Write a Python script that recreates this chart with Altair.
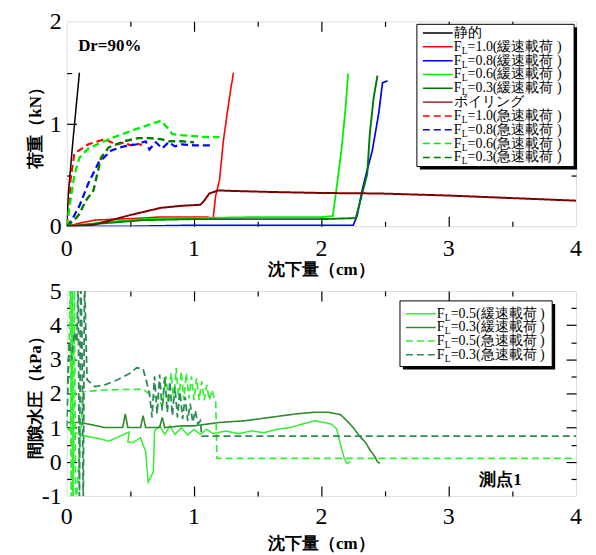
import altair as alt
import pandas as pd

# ---------------- top panel: load (kN) vs settlement (cm) ----------------
top_labels = ["静的", "FL=1.0(緩速載荷 )", "FL=0.8(緩速載荷 )", "FL=0.6(緩速載荷 )",
              "FL=0.3(緩速載荷 )", "ボイリング", "FL=1.0(急速載荷 )", "FL=0.8(急速載荷 )",
              "FL=0.6(急速載荷 )", "FL=0.3(急速載荷 )"]

static_x = [0, 0.015, 0.05, 0.1]
static_y = [0, 0.35, 0.85, 1.5]

slow10_x = [0, 0.1, 0.22, 0.4, 0.6, 0.72, 0.9, 1.0, 1.1, 1.15, 1.17, 1.2, 1.23, 1.26, 1.29, 1.31]
slow10_y = [0, 0.03, 0.06, 0.07, 0.08, 0.09, 0.09, 0.09, 0.09, 0.08, 0.3, 0.45, 0.83, 1.1, 1.35, 1.5]

slow08_x = [0, 0.5, 1.0, 1.5, 2.0, 2.25, 2.28, 2.32, 2.36, 2.4, 2.45, 2.48, 2.52]
slow08_y = [0, 0.0, 0.01, 0.01, 0.01, 0.01, 0.1, 0.35, 0.55, 0.74, 1.1, 1.4, 1.42]

slow06_x = [0, 0.3, 0.6, 1.0, 1.5, 2.0, 2.09, 2.12, 2.16, 2.19, 2.21]
slow06_y = [0, 0.04, 0.07, 0.08, 0.09, 0.09, 0.1, 0.38, 0.77, 1.16, 1.49]

slow03_x = [0, 0.3, 0.6, 1.0, 1.5, 2.0, 2.27, 2.3, 2.36, 2.38, 2.41, 2.44]
slow03_y = [0, 0.03, 0.06, 0.07, 0.07, 0.07, 0.08, 0.22, 0.51, 0.9, 1.25, 1.47]

boil_x = [0, 0.2, 0.35, 0.5, 0.74, 0.9, 1.05, 1.08, 1.12, 1.19, 1.3, 1.6, 2.0, 2.46, 3.0, 3.5, 4.0]
boil_y = [0, 0.01, 0.06, 0.11, 0.18, 0.2, 0.21, 0.25, 0.32, 0.35, 0.345, 0.335, 0.325, 0.32, 0.3, 0.275, 0.25]

fast10_x = [0, 0.02, 0.03, 0.06, 0.17, 0.3, 0.35, 0.4, 0.45, 0.5, 0.55, 0.59]
fast10_y = [0, 0.2, 0.45, 0.71, 0.8, 0.85, 0.82, 0.8, 0.82, 0.79, 0.81, 0.79]

fast08_x = [0, 0.04, 0.1, 0.17, 0.25, 0.35, 0.45, 0.55, 0.62, 0.65, 0.7, 0.75, 0.8, 0.85, 0.9, 1.0, 1.13]
fast08_y = [0, 0.06, 0.2, 0.42, 0.62, 0.74, 0.78, 0.8, 0.83, 0.75, 0.82, 0.76, 0.82, 0.78, 0.8, 0.79, 0.79]

fast06_x = [0, 0.03, 0.06, 0.1, 0.17, 0.35, 0.55, 0.74, 0.8, 0.83, 0.9, 1.0, 1.1, 1.2]
fast06_y = [0, 0.25, 0.5, 0.67, 0.76, 0.86, 0.95, 1.03, 0.95, 0.9, 0.89, 0.88, 0.87, 0.87]

fast03_x = [0, 0.06, 0.1, 0.15, 0.21, 0.27, 0.33, 0.45, 0.56, 0.65, 0.74, 0.8, 0.9, 1.0]
fast03_y = [0, 0.06, 0.12, 0.25, 0.35, 0.67, 0.77, 0.83, 0.86, 0.86, 0.85, 0.83, 0.83, 0.82]

top_xs = [static_x, slow10_x, slow08_x, slow06_x, slow03_x, boil_x, fast10_x, fast08_x, fast06_x, fast03_x]
top_ys = [static_y, slow10_y, slow08_y, slow06_y, slow03_y, boil_y, fast10_y, fast08_y, fast06_y, fast03_y]

# ---------------- bottom panel: pore water pressure (kPa) ----------------
bot_labels = ["FL=0.5(緩速載荷 )", "FL=0.3(緩速載荷 )", "FL=0.5(急速載荷 )", "FL=0.3(急速載荷 )"]

pslow05_x = [0, 0.03, 0.045, 0.05, 0.055, 0.07, 0.12, 0.25, 0.33, 0.46, 0.49, 0.48, 0.52, 0.58,
             0.62, 0.64, 0.68, 0.69, 0.73, 0.77, 0.81, 0.85, 0.9, 0.95, 1.0, 1.05, 1.1, 1.15, 1.25,
             1.35, 1.45, 1.55, 1.65, 1.75, 1.85, 1.95, 2.02, 2.08, 2.12, 2.15, 2.18, 2.2, 2.23]
pslow05_y = [1.0, 0.9, 5.5, -1.5, 0.8, 0.85, 0.77, 0.68, 0.6, 0.82, 0.87, 0.58, 0.56, 0.7,
             0.3, -0.6, -0.3, 0.9, 1.05, 0.8, 1.05, 0.8, 1.0, 0.78, 0.95, 0.8, 0.95, 0.82, 0.9,
             0.82, 0.9, 0.85, 0.95, 1.0, 1.1, 1.2, 1.15, 1.1, 0.96, 0.5, 0.1, -0.05, 0.0]

pslow03_x = [0, 0.1, 0.2, 0.3, 0.44, 0.46, 0.48, 0.58, 0.6, 0.62, 0.73, 0.75, 0.77, 0.9, 1.0,
             1.2, 1.4, 1.6, 1.8, 1.95, 2.05, 2.15, 2.2, 2.25, 2.3, 2.35, 2.38, 2.42, 2.44, 2.46]
pslow03_y = [1.15, 1.15, 1.08, 1.0, 1.0, 1.4, 1.0, 1.0, 1.35, 1.0, 1.0, 1.3, 1.0, 1.05, 1.05,
             1.15, 1.2, 1.3, 1.4, 1.45, 1.45, 1.38, 1.2, 1.0, 0.75, 0.55, 0.35, 0.15, 0.0, -0.05]

pfast05_x = [0, 0.02, 0.03, 0.035, 0.04, 0.045, 0.05, 0.06, 0.07, 0.13, 0.3, 0.5, 0.6, 0.68,
             0.72, 0.75, 0.78, 0.8, 0.82, 0.84, 0.86, 0.88, 0.9, 0.92, 0.94, 0.96, 0.98, 1.0,
             1.02, 1.04, 1.06, 1.08, 1.1, 1.12, 1.14, 1.16, 1.17, 1.18, 1.5, 2.0, 2.5, 3.0, 3.5, 4.0]
pfast05_y = [1.0, 3.5, 5.5, -1.5, 5.5, 2.0, -1.5, 5.5, -1.5, 2.05, 2.1, 2.12, 2.12, 1.9,
             1.9, 1.6, 2.5, 1.7, 2.6, 1.8, 2.75, 1.8, 2.65, 1.8, 2.6, 1.85, 2.5, 1.8,
             2.45, 1.8, 2.35, 1.8, 2.25, 1.8, 2.1, 1.85, 1.8, 0.1, 0.1, 0.1, 0.1, 0.1, 0.1, 0.1]

pfast03_x = [0, 0.01, 0.02, 0.04, 0.06, 0.08, 0.09, 0.1, 0.11, 0.12, 0.13, 0.14, 0.15, 0.16,
             0.22, 0.3, 0.4, 0.5, 0.55, 0.6, 0.63, 0.65, 0.67, 0.69, 0.71, 0.73, 0.75, 0.77,
             0.79, 0.81, 0.83, 0.85, 0.87, 0.89, 0.91, 0.93, 0.95, 0.97, 0.99, 1.01, 1.03,
             1.05, 1.06, 1.5, 2.0, 3.0, 4.0]
pfast03_y = [1.0, 2.5, 3.5, 3.0, 3.8, 3.5, 5.5, -1.5, 5.5, 3.6, -1.5, 5.5, 3.8, 2.4,
             2.2, 2.25, 2.4, 2.6, 2.75, 2.72, 2.3, 2.0, 1.3, 2.5, 1.4, 2.55, 1.5, 2.5,
             1.45, 2.35, 1.35, 2.2, 1.3, 2.05, 1.25, 1.9, 1.2, 1.7, 1.15, 1.5, 1.1,
             1.2, 0.75, 0.75, 0.75, 0.75, 0.75]

bot_xs = [pslow05_x, pslow03_x, pfast05_x, pfast03_x]
bot_ys = [pslow05_y, pslow03_y, pfast05_y, pfast03_y]

x_major = [1, 2, 3]
x_minor = [0.5, 1.5, 2.5, 3.5]
x_labels = [0, 1, 2, 3, 4]
top_y_labels = [0, 1, 2]
top_y_major = [1]
top_y_minor = [0.5, 1.5]
bot_y_labels = [-1, 0, 1, 2, 3, 4, 5]
bot_y_major = [0, 1, 2, 3, 4]
bot_y_minor = [-0.5, 0.5, 1.5, 2.5, 3.5, 4.5]

# ---------------- styles ----------------
top_colors = ["#000000", "#ff0000", "#0000ff", "#00ee00", "#007a00", "#800000",
              "#ff0000", "#0000ff", "#00ee00", "#007a00"]
top_widths = [1.5, 2.4, 2.4, 2.4, 2.4, 1.6, 1.5, 1.5, 1.5, 1.5]
top_dashes = [[1, 0]] * 6 + [[7, 4]] * 4
bot_colors = ["#33ee33", "#2e8b2e", "#33ee33", "#2e8b57"]
bot_widths = [1.5, 1.8, 1.5, 1.5]
bot_dashes = [[1, 0], [1, 0], [7, 4], [7, 4]]

SERIF = "Liberation Serif"
W, H = 512, 206


def long_df(labels, xs, ys):
    rows = []
    for lab, xx, yy in zip(labels, xs, ys):
        for i, (a, b) in enumerate(zip(xx, yy)):
            rows.append({"x": a, "y": b, "s": lab, "o": i})
    return pd.DataFrame(rows)


def panel(df, labels, colors, widths, dashes, ydom, ylab, ymaj, ymin, ytitle,
          box, row0, rowstep, xlab_dy, xtitle_dy, notes):
    xs = alt.Scale(domain=[0, 4], nice=False, zero=False)
    ys = alt.Scale(domain=ydom, nice=False, zero=False)
    cscale = alt.Scale(domain=labels, range=colors)
    dscale = alt.Scale(domain=labels, range=dashes)
    wscale = alt.Scale(domain=labels, range=widths)
    lines = alt.Chart(df).mark_line(clip=True).encode(
        x=alt.X("x:Q", scale=xs, axis=None),
        y=alt.Y("y:Q", scale=ys, axis=None),
        color=alt.Color("s:N", scale=cscale, legend=None),
        strokeDash=alt.StrokeDash("s:N", scale=dscale, legend=None),
        strokeWidth=alt.StrokeWidth("s:N", scale=wscale, legend=None),
        detail="s:N",
        order="o:Q",
    )
    lim = pd.DataFrame({"x": [0, 4], "y": ydom})
    base = alt.Chart(lim).mark_point(opacity=0)

    def ax(orient, values, size):
        return alt.Axis(orient=orient, values=values, domain=False, grid=False,
                        labels=False, title=None, ticks=True, tickSize=size,
                        offset=-size, tickColor="black", tickWidth=1.2)

    t1 = base.encode(x=alt.X("x:Q", scale=xs, axis=ax("bottom", x_major, 10)),
                     y=alt.Y("y:Q", scale=ys, axis=ax("left", ymaj, 10)))
    t2 = base.encode(x=alt.X("x:Q", scale=xs, axis=ax("bottom", x_minor, 5)),
                     y=alt.Y("y:Q", scale=ys, axis=ax("left", ymin, 5)))
    t3 = base.encode(x=alt.X("x:Q", scale=xs, axis=ax("top", x_major, 10)),
                     y=alt.Y("y:Q", scale=ys, axis=ax("right", ymaj, 10)))
    t4 = base.encode(x=alt.X("x:Q", scale=xs, axis=ax("top", x_minor, 5)),
                     y=alt.Y("y:Q", scale=ys, axis=ax("right", ymin, 5)))

    # tick labels (serif), placed through the scales
    xl = alt.Chart(pd.DataFrame({"v": x_labels, "t": [str(v) for v in x_labels]})).mark_text(
        font=SERIF, fontSize=24, align="center", baseline="alphabetic", color="black").encode(
        x=alt.X("v:Q", scale=xs, axis=None), y=alt.value(H + xlab_dy), text="t:N")
    yl = alt.Chart(pd.DataFrame({"v": ylab, "t": [str(v) for v in ylab]})).mark_text(
        font=SERIF, fontSize=24, align="right", baseline="alphabetic", dy=8,
        color="black").encode(
        x=alt.value(-5), y=alt.Y("v:Q", scale=ys, axis=None), text="t:N")
    one = pd.DataFrame({"k": [0]})
    xt = alt.Chart(pd.DataFrame({"t": ["沈下量（cm）"]})).mark_text(
        font=SERIF, fontSize=17, fontWeight="bold", align="center", baseline="middle",
        color="black").encode(x=alt.value(W / 2), y=alt.value(H + xtitle_dy), text="t:N")
    yt = alt.Chart(pd.DataFrame({"t": [ytitle]})).mark_text(
        font=SERIF, fontSize=17, fontWeight="bold", align="center", baseline="middle",
        angle=270, color="black").encode(x=alt.value(-31), y=alt.value(H / 2), text="t:N")

    layers = [t1, t2, t3, t4, lines, xl, yl, xt, yt]
    for (nx, ny, txt) in notes:
        ndf = pd.DataFrame({"x": [nx], "y": [ny], "t": [txt]})
        layers.append(alt.Chart(ndf).mark_text(font=SERIF, fontSize=17, fontWeight="bold",
                                               align="left", baseline="alphabetic",
                                               color="black").encode(
            x=alt.X("x:Q", scale=xs, axis=None),
            y=alt.Y("y:Q", scale=ys, axis=None),
            text="t:N"))

    # ---- hand-built legend (box with shadow, line samples, subscripted labels) ----
    bx0, by0, bx1, by1 = box
    n = len(labels)
    leg = pd.DataFrame({
        "s": labels,
        "r": list(range(n)),
        "head": ["F" if l.startswith("FL") else "" for l in labels],
        "sub": ["L" if l.startswith("FL") else "" for l in labels],
        "rest": [l[2:] if l.startswith("FL") else l for l in labels],
        "isf": [l.startswith("FL") for l in labels],
    })
    rscale = alt.Scale(domain=[0, n - 1], range=[row0, row0 + rowstep * (n - 1)])
    ry = alt.Y("r:Q", scale=rscale, axis=None)
    shadow = alt.Chart(one).mark_rect(fill="black", stroke=None).encode(
        x=alt.value(bx0 + 3), x2=alt.value(bx1 + 3), y=alt.value(by0 + 3), y2=alt.value(by1 + 3))
    frame = alt.Chart(one).mark_rect(fill="white", stroke="black", strokeWidth=1).encode(
        x=alt.value(bx0), x2=alt.value(bx1), y=alt.value(by0), y2=alt.value(by1))
    sx0 = bx0 + 6
    sx1 = sx0 + 30
    samp = alt.Chart(leg).mark_rule(strokeWidth=1.5).encode(
        x=alt.value(sx0), x2=alt.value(sx1), y=ry,
        color=alt.Color("s:N", scale=cscale, legend=None),
        strokeDash=alt.StrokeDash("s:N", scale=dscale, legend=None))
    tf = leg[leg["isf"]]
    tn = leg[~leg["isf"]]
    tx = sx1 + 1
    txt_head = alt.Chart(tf).mark_text(font=SERIF, fontSize=14, align="left",
                                       baseline="middle", color="black").encode(
        x=alt.value(tx), y=ry, text="head:N")
    txt_sub = alt.Chart(tf).mark_text(font=SERIF, fontSize=9.5, align="left",
                                      baseline="middle", dy=4, color="black").encode(
        x=alt.value(tx + 8), y=ry, text="sub:N")
    txt_rest = alt.Chart(tf).mark_text(font=SERIF, fontSize=14, align="left",
                                       baseline="middle", color="black").encode(
        x=alt.value(tx + 14), y=ry, text="rest:N")
    legend_layers = [shadow, frame, samp, txt_head, txt_sub, txt_rest]
    if len(tn):
        legend_layers.append(alt.Chart(tn).mark_text(font=SERIF, fontSize=14, align="left",
                                                     baseline="middle", color="black").encode(
            x=alt.value(tx), y=ry, text="rest:N"))
    layers += legend_layers
    return alt.layer(*layers).resolve_axis(x="independent", y="independent").resolve_scale(
        y="independent").properties(width=W, height=H)


top_df = long_df(top_labels, top_xs, top_ys)
bot_df = long_df(bot_labels, bot_xs, bot_ys)

top = panel(top_df, top_labels, top_colors, top_widths, top_dashes, [0, 2], top_y_labels,
            top_y_major, top_y_minor, "荷重（kN）", (352, 3, 510, 146), 11.7, 13.9, 30, 44,
            [(0.09, 1.71, "Dr=90%")])
bottom = panel(bot_df, bot_labels, bot_colors, bot_widths, bot_dashes, [-1, 5], bot_y_labels,
               bot_y_major, bot_y_minor, "間隙水圧（kPa）", (335, 10, 488, 76), 23, 13.7, 28, 48,
               [(3.24, -0.67, "測点1")])

chart = alt.vconcat(top, bottom, spacing=0).resolve_scale(
    x="independent", y="independent", color="independent", strokeDash="independent",
    strokeWidth="independent"
).configure_view(stroke="black", strokeWidth=1.5).configure(
    padding={"left": 18, "top": 0, "right": 5, "bottom": 0},
)

chart.save("out.html", embed_options={"renderer": "svg", "actions": False})
